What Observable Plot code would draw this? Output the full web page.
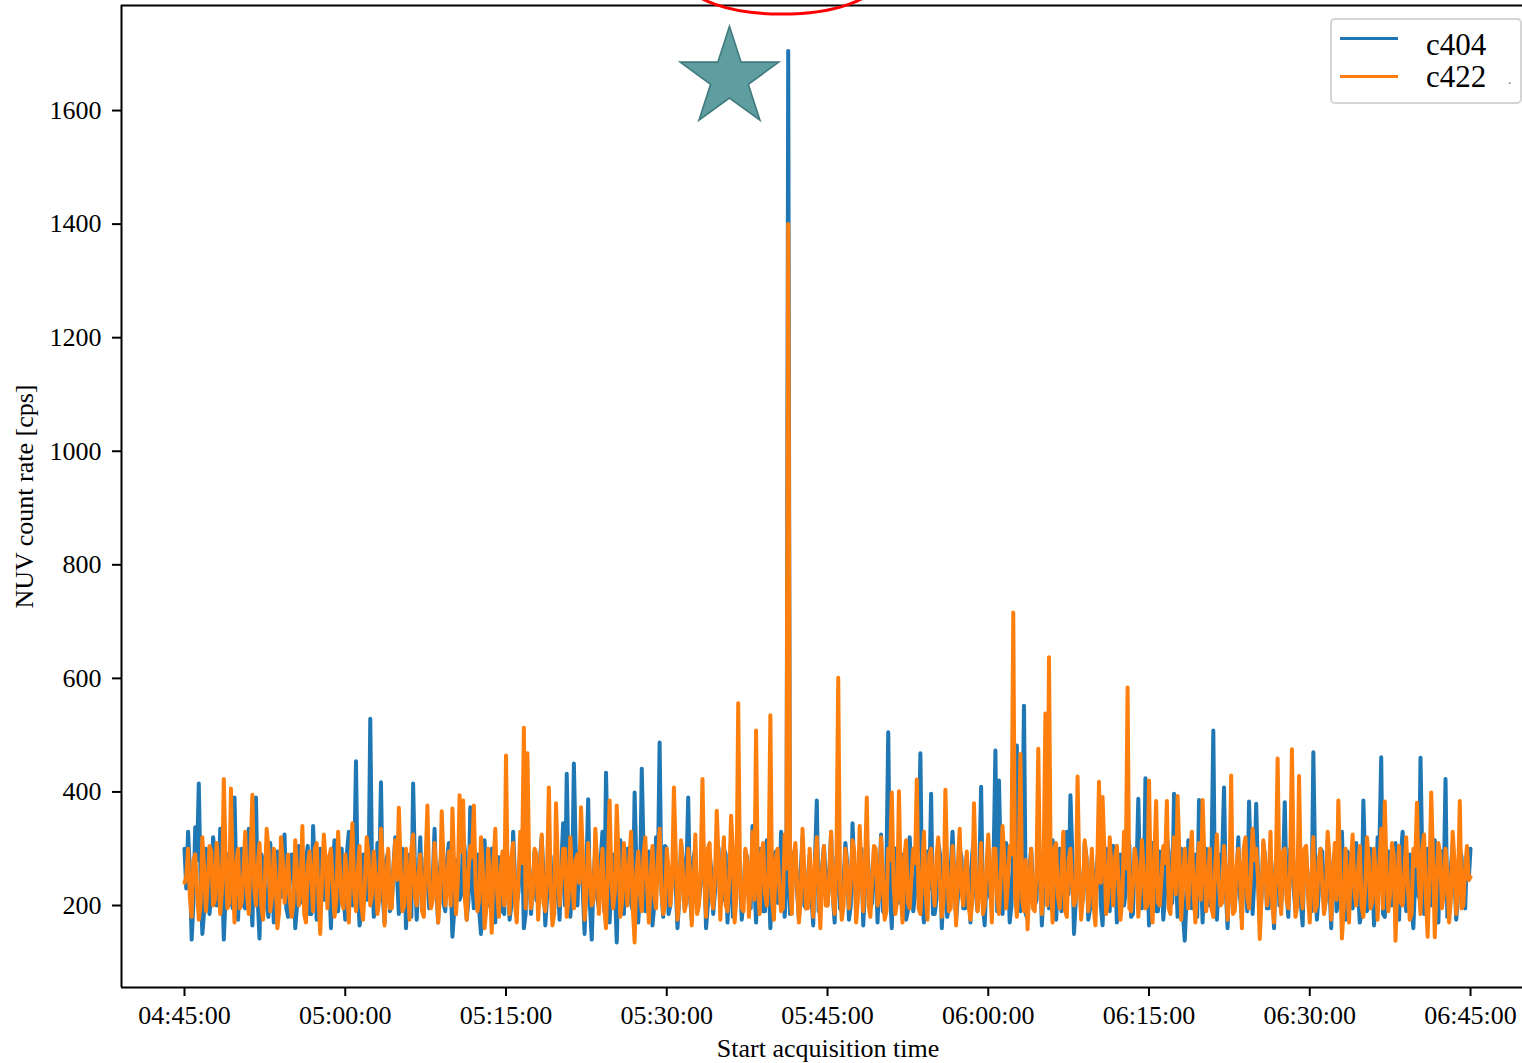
<!DOCTYPE html>
<html>
<head>
<meta charset="utf-8">
<script src="https://cdn.jsdelivr.net/npm/d3@7"></script>
<script src="https://cdn.jsdelivr.net/npm/@observablehq/plot@0.6"></script>
<style>
  html, body { margin: 0; padding: 0; background: white; }
  #wrap { position: relative; width: 1522px; height: 1063px; overflow: hidden; font-family: "Liberation Serif", "Times New Roman", serif; }
  #wrap svg g[aria-label="line"], #wrap svg g[aria-label="line"] path { stroke-width: 4px; }
  #legend { position: absolute; left: 1330px; top: 18px; width: 188px; height: 82px; border: 2px solid #d4d4d4; border-radius: 5px; background: rgba(255,255,255,0.85); }
  .lg-line { position: absolute; left: 8px; width: 58px; height: 3px; }
  .lg-text { position: absolute; left: 94px; font-size: 31px; line-height: 1; color: #000; }
  #dot { position: absolute; left: 176px; top: 52px; font-size: 14px; color: #777; }
</style>
</head>
<body>
<div id="wrap"></div>
<script>
// ---- Data: readings every 20 s from 04:45:00, plus the readings 10 s after each ----
const seriesNames = ["c404", "c422"];
const startTime = "04:45:00";
const sampleSeconds = 20;

const c404 = [
300,330,140,338,415,150,300,185,320,200,
335,140,290,210,390,175,300,195,335,165,
390,142,280,200,310,170,295,215,325,180,
290,160,305,205,280,185,340,175,300,210,
285,160,315,190,300,175,330,200,454,165,
290,210,529,180,310,417,170,295,200,320,
185,300,160,290,415,175,320,195,285,205,
335,170,300,190,310,145,280,210,325,175,
373,195,290,150,315,200,300,170,285,190,
305,175,330,200,290,160,310,185,295,205,
320,165,300,190,285,175,345,432,180,450,
200,310,150,387,140,300,195,330,434,170,
290,135,315,185,300,205,399,170,441,190,
295,165,320,487,180,300,200,285,160,310,
195,390,175,300,205,330,160,290,185,315,
200,300,170,285,195,320,175,295,210,340,
170,300,190,315,160,290,205,330,180,1705,
210,300,175,320,195,290,165,385,190,305,
200,330,170,295,190,310,175,345,200,290,
165,315,195,300,170,325,185,505,160,300,
205,290,175,320,190,300,468,170,295,397,
185,310,160,290,200,330,175,300,195,285,
170,320,190,409,165,300,205,473,420,185,
310,170,295,482,190,552,175,300,200,320,
165,290,195,315,175,300,205,330,394,150,
295,190,310,175,285,200,320,165,300,190,
305,170,290,200,325,180,300,388,195,424,
165,310,190,295,175,320,200,397,180,300,
138,315,195,290,386,170,300,200,508,175,
290,408,160,305,195,320,175,290,383,185,
379,170,310,195,295,160,315,200,382,180,
300,190,325,165,290,200,470,175,300,190,
315,160,295,205,330,175,290,195,310,170,
385,190,300,165,320,461,180,295,200,310,
175,330,190,290,160,305,460,185,300,200,
315,170,295,423,190,310,175,300,200,290,
300
];

const c404Mid = [
230,265,205,280,245,190,270,220,295,210,
255,215,285,195,240,275,200,260,225,300,
210,290,235,180,265,250,215,285,195,245,
275,200,250,225,305,185,260,235,210,280,
240,270,190,255,220,295,205,265,230,185,
290,225,260,200,245,215,280,190,270,250,
210,290,235,180,265,250,215,285,195,245,
230,265,205,280,245,190,270,220,295,210,
240,270,190,255,220,295,205,265,230,185,
275,200,250,225,305,185,260,235,210,280,
255,215,285,195,240,275,200,260,225,300,
290,225,260,200,245,215,280,190,270,250,
230,265,205,280,245,190,270,220,295,210,
275,200,250,225,305,185,260,235,210,280,
255,215,285,195,240,275,200,260,225,300,
210,290,235,180,265,250,215,285,195,245,
240,270,190,255,220,295,205,265,230,185,
290,225,260,200,245,215,280,190,270,250,
255,215,285,195,240,275,200,260,225,300,
230,265,205,280,245,190,270,220,295,210,
240,270,190,255,220,295,205,265,230,185,
210,290,235,180,265,250,215,285,195,245,
290,225,260,200,245,215,280,190,270,250,
275,200,250,225,305,185,260,235,210,280,
230,265,205,280,245,190,270,220,295,210,
255,215,285,195,240,275,200,260,225,300,
275,200,250,225,305,185,260,235,210,280,
240,270,190,255,220,295,205,265,230,185,
210,290,235,180,265,250,215,285,195,245,
290,225,260,200,245,215,280,190,270,250,
255,215,285,195,240,275,200,260,225,300,
230,265,205,280,245,190,270,220,295,210,
240,270,190,255,220,295,205,265,230,185,
275,200,250,225,305,185,260,235,210,280,
290,225,260,200,245,215,280,190,270,250,
210,290,235,180,265,250,215,285,195,245
];

const c422 = [
240,300,180,290,175,320,190,305,200,310,
185,423,195,406,170,300,205,330,185,395,
200,310,175,335,190,300,160,320,205,290,
180,315,200,340,170,295,190,310,150,325,
195,300,180,330,205,290,170,345,190,305,
175,320,200,295,185,335,165,300,195,315,
372,190,300,175,325,200,290,180,376,195,
310,170,366,200,295,371,185,394,385,175,
305,376,190,320,160,300,152,335,180,295,
464,185,310,170,330,513,468,195,300,175,
325,190,408,165,380,200,300,180,320,195,
290,373,175,310,200,335,185,300,160,385,
195,376,180,310,200,330,135,295,190,320,
170,305,195,335,185,300,200,408,175,315,
190,300,165,325,200,423,180,310,195,367,
175,320,190,358,170,556,195,300,180,330,
508,185,310,200,535,175,300,190,325,1400,
185,310,170,335,195,300,180,320,160,305,
200,330,185,601,175,300,195,315,170,340,
190,390,180,305,200,320,175,300,399,185,
401,170,315,195,300,422,185,330,175,300,
200,320,180,404,190,305,165,335,200,295,
175,380,190,310,200,325,170,300,185,340,
195,305,716,180,467,190,158,300,190,476,
185,538,637,170,310,195,330,180,300,200,
427,175,315,190,300,165,418,391,185,320,
200,305,175,330,584,190,300,180,315,195,
420,170,384,200,305,384,185,320,393,175,
300,195,330,170,310,386,190,300,180,325,
200,305,175,429,190,300,160,320,195,335,
300,141,315,200,330,170,459,185,300,195,
475,180,428,195,305,170,320,200,300,185,
330,175,310,385,142,300,170,325,200,305,
180,320,195,300,175,335,383,190,310,138,
305,200,320,175,300,381,185,325,145,399,
144,310,195,300,170,330,185,384,200,305,
250
];

const c422Mid = [
250,215,280,230,200,265,240,295,210,260,
225,285,205,250,275,195,260,220,290,235,
270,200,245,300,215,255,190,280,235,210,
205,260,230,185,270,245,300,215,250,280,
285,235,210,265,195,240,275,225,260,200,
240,290,220,255,210,280,235,195,265,245,
270,200,245,300,215,255,190,280,235,210,
250,215,280,230,200,265,240,295,210,260,
285,235,210,265,195,240,275,225,260,200,
225,285,205,250,275,195,260,220,290,235,
205,260,230,185,270,245,300,215,250,280,
240,290,220,255,210,280,235,195,265,245,
225,285,205,250,275,195,260,220,290,235,
250,215,280,230,200,265,240,295,210,260,
205,260,230,185,270,245,300,215,250,280,
270,200,245,300,215,255,190,280,235,210,
240,290,220,255,210,280,235,195,265,245,
285,235,210,265,195,240,275,225,260,200,
250,215,280,230,200,265,240,295,210,260,
270,200,245,300,215,255,190,280,235,210,
225,285,205,250,275,195,260,220,290,235,
285,235,210,265,195,240,275,225,260,200,
205,260,230,185,270,245,300,215,250,280,
240,290,220,255,210,280,235,195,265,245,
270,200,245,300,215,255,190,280,235,210,
250,215,280,230,200,265,240,295,210,260,
285,235,210,265,195,240,275,225,260,200,
225,285,205,250,275,195,260,220,290,235,
240,290,220,255,210,280,235,195,265,245,
205,260,230,185,270,245,300,215,250,280,
250,215,280,230,200,265,240,295,210,260,
270,200,245,300,215,255,190,280,235,210,
285,235,210,265,195,240,275,225,260,200,
225,285,205,250,275,195,260,220,290,235,
205,260,230,185,270,245,300,215,250,280,
240,290,220,255,210,280,235,195,265,245
];

// axis ticks
const xTickLabels = ["04:45:00","05:00:00","05:15:00","05:30:00","05:45:00","06:00:00","06:15:00","06:30:00","06:45:00"];
const yTickValues = [200, 400, 600, 800, 1000, 1200, 1400, 1600];

// annotations
const starPoint = [{time: "05:35:51", value: 1657}];
const ellipseCenter = {time: "05:40:48", value: 1829};

// ---- Build ----
const day = "2021-01-01T";
const toDate = s => new Date(day + s + "Z");
const t0 = toDate(startTime).getTime();
const stepMs = sampleSeconds * 1000;
const rowsOf = (main, mid) => {
  const rows = [];
  main.forEach((v, i) => {
    rows.push({time: new Date(t0 + i * stepMs), value: v});
    if (i < mid.length) rows.push({time: new Date(t0 + i * stepMs + stepMs / 2), value: mid[i]});
  });
  return rows;
};
const blueRows = rowsOf(c404, c404Mid);
const orangeRows = rowsOf(c422, c422Mid);

const xDomain = [new Date(t0 - 5.879 * 60000), new Date(t0 + 124.85 * 60000)];
const yDomain = [55.6, 1785];
const xTicks = xTickLabels.map(toDate);
const colors = {c404: "#1f77b4", c422: "#ff7f0e"};

const ellipseMark = (index, scales) => {
  const ns = "http://www.w3.org/2000/svg";
  const g = document.createElementNS(ns, "g");
  const e = document.createElementNS(ns, "ellipse");
  const c = toDate(ellipseCenter.time);
  const cx = scales.x(c);
  const cy = scales.y(ellipseCenter.value);
  const rx = scales.x(new Date(c.getTime() + 8.9 * 60000)) - cx;
  const ry = scales.y(ellipseCenter.value - 60) - cy;
  e.setAttribute("cx", cx); e.setAttribute("cy", cy);
  e.setAttribute("rx", rx); e.setAttribute("ry", ry);
  e.setAttribute("fill", "none"); e.setAttribute("stroke", "red"); e.setAttribute("stroke-width", 3);
  g.appendChild(e);
  return g;
};

const lineOpts = (color) => ({x: "time", y: "value", stroke: color, strokeWidth: 4, strokeLinejoin: "round", strokeLinecap: "round"});

const chart = Plot.plot({
  width: 1522,
  height: 1063,
  marginTop: 5,
  marginBottom: 76,
  marginLeft: 121,
  marginRight: 0,
  style: {fontFamily: "Liberation Serif, Times New Roman, serif", fontSize: "26px", color: "black", background: "white"},
  x: {type: "utc", domain: xDomain},
  y: {domain: yDomain},
  marks: [
    Plot.line(blueRows, lineOpts(colors.c404)),
    Plot.line(orangeRows, lineOpts(colors.c422)),
    Plot.dot(starPoint, {x: d => toDate(d.time), y: "value", symbol: "star", r: 31, fill: "#5f9ea0", stroke: "#3f7a7f", strokeWidth: 1.6}),
    Plot.ruleY([yDomain[1]], {stroke: "black", strokeWidth: 2}),
    Plot.ruleY([yDomain[0]], {stroke: "black", strokeWidth: 2}),
    Plot.ruleX([xDomain[0]], {stroke: "black", strokeWidth: 2}),
    Plot.axisX({ticks: xTicks, tickFormat: d3.utcFormat("%H:%M:%S"), tickSize: 9, tickPadding: 9, strokeWidth: 2, label: null, fontSize: 26}),
    Plot.axisY({ticks: yTickValues, tickFormat: d3.format("d"), tickSize: 9, tickPadding: 11, strokeWidth: 2, label: null, fontSize: 26}),
    Plot.text(["Start acquisition time"], {text: d => d, frameAnchor: "bottom", textAnchor: "middle", lineAnchor: "middle", dx: 6, dy: 61, fontSize: 26}),
    Plot.text(["NUV count rate [cps]"], {text: d => d, frameAnchor: "left", textAnchor: "middle", lineAnchor: "middle", dx: -97, rotate: -90, fontSize: 26}),
    ellipseMark
  ]
});

const wrap = document.getElementById("wrap");
wrap.appendChild(chart);

// legend
const legend = document.createElement("div");
legend.id = "legend";
seriesNames.forEach((name, i) => {
  const line = document.createElement("div");
  line.className = "lg-line";
  line.style.top = (17 + i * 38) + "px";
  line.style.background = colors[name];
  legend.appendChild(line);
  const txt = document.createElement("div");
  txt.className = "lg-text";
  txt.style.top = (9 + i * 32) + "px";
  txt.textContent = name;
  legend.appendChild(txt);
});
const dot = document.createElement("div");
dot.id = "dot";
dot.textContent = ".";
legend.appendChild(dot);
wrap.appendChild(legend);
</script>
</body>
</html>
